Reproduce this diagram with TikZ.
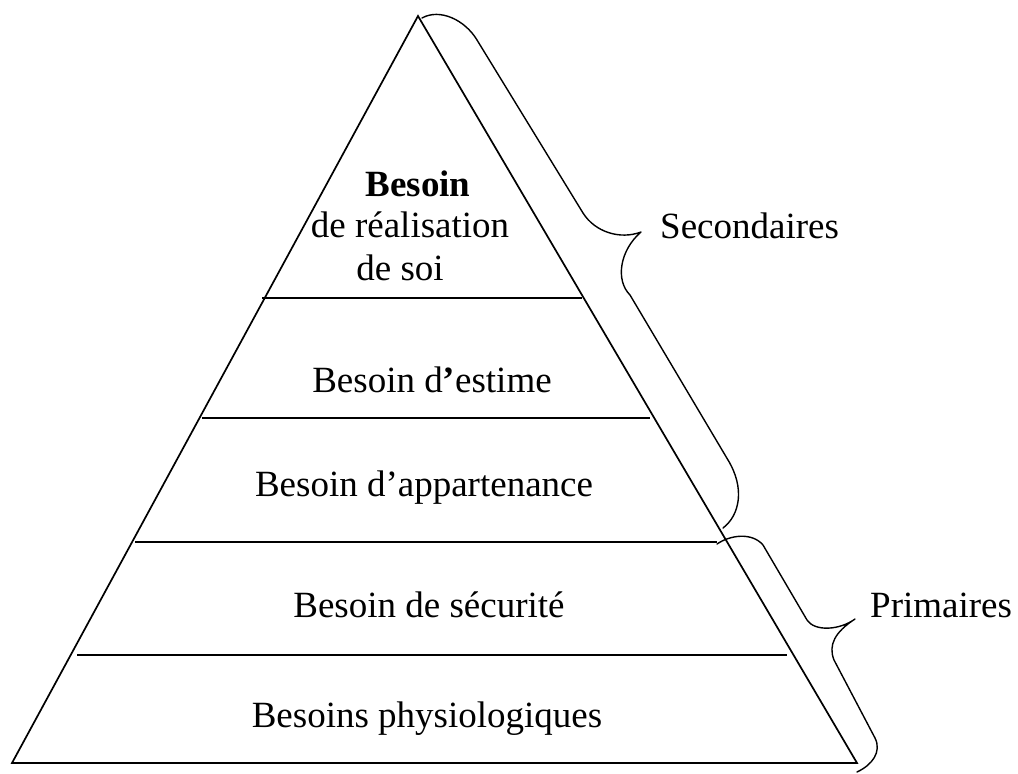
\documentclass[tikz,border=0pt]{standalone}
\usepackage{fontspec}
\setmainfont{Liberation Serif}
\begin{document}
\begin{tikzpicture}[x=1pt,y=-1pt,
  edge/.style={line width=1.7pt, line join=miter},
  tier/.style={line width=1.5pt},
  bracket/.style={line width=1.4pt, line cap=round, line join=round},
  lbl/.style={font=\fontsize{37}{42}\selectfont, anchor=base, inner sep=0pt}]
\useasboundingbox (0,0) rectangle (1018,774);

% pyramid outline
\coordinate (apex) at (418,16);
\coordinate (bl) at (12,763);
\coordinate (br) at (857,763);
\draw[edge] (apex) -- (bl) -- (br) -- cycle;

% tier separators
\coordinate (t1l) at (262,298); \coordinate (t1r) at (582,298);
\coordinate (t2l) at (202,418); \coordinate (t2r) at (650,418);
\coordinate (t3l) at (135,542); \coordinate (t3r) at (717,542);
\coordinate (t4l) at (77,655);  \coordinate (t4r) at (787,655);
\draw[tier] (t1l) -- (t1r);
\draw[tier] (t2l) -- (t2r);
\draw[tier] (t3l) -- (t3r);
\draw[tier] (t4l) -- (t4r);

% tier labels
\node[lbl] (top1) at (418,196) {\textbf{Besoin}};
\node[lbl] (top2) at (410,237) {de réalisation};
\node[lbl] (top3) at (400,280) {de soi};
\node[lbl] (estime) at (432,392) {Besoin d\textbf{’}estime};
\node[lbl] (appart) at (424,496) {Besoin d’appartenance};
\node[lbl] (secu) at (429,617) {Besoin de sécurité};
\node[lbl] (physio) at (427,727) {Besoins physiologiques};

% upper bracket
\coordinate (u0) at (422,18);
\coordinate (utip) at (641,232);
\coordinate (u1) at (723,528);
\draw[bracket] (u0) .. controls (440,8) and (465,20) .. (477,40)
  -- (583,213) .. controls (595,232) and (620,240) .. (utip)
  .. controls (620,250) and (615,280) .. (630,295)
  -- (728,460) .. controls (745,488) and (740,515) .. (u1);
\node[lbl, anchor=base west] (sec) at (660,238) {Secondaires};

% lower bracket
\coordinate (l0) at (717,544);
\coordinate (ltip) at (855,619);
\coordinate (l1) at (857,772);
\draw[bracket] (l0) .. controls (730,535) and (752,532) .. (763,545)
  -- (807,620) .. controls (815,632) and (840,630) .. (ltip)
  .. controls (835,632) and (828,645) .. (834,660)
  -- (875,738) .. controls (882,752) and (872,765) .. (l1);
\node[lbl, anchor=base west] (prim) at (870,617) {Primaires};
\end{tikzpicture}
\end{document}
